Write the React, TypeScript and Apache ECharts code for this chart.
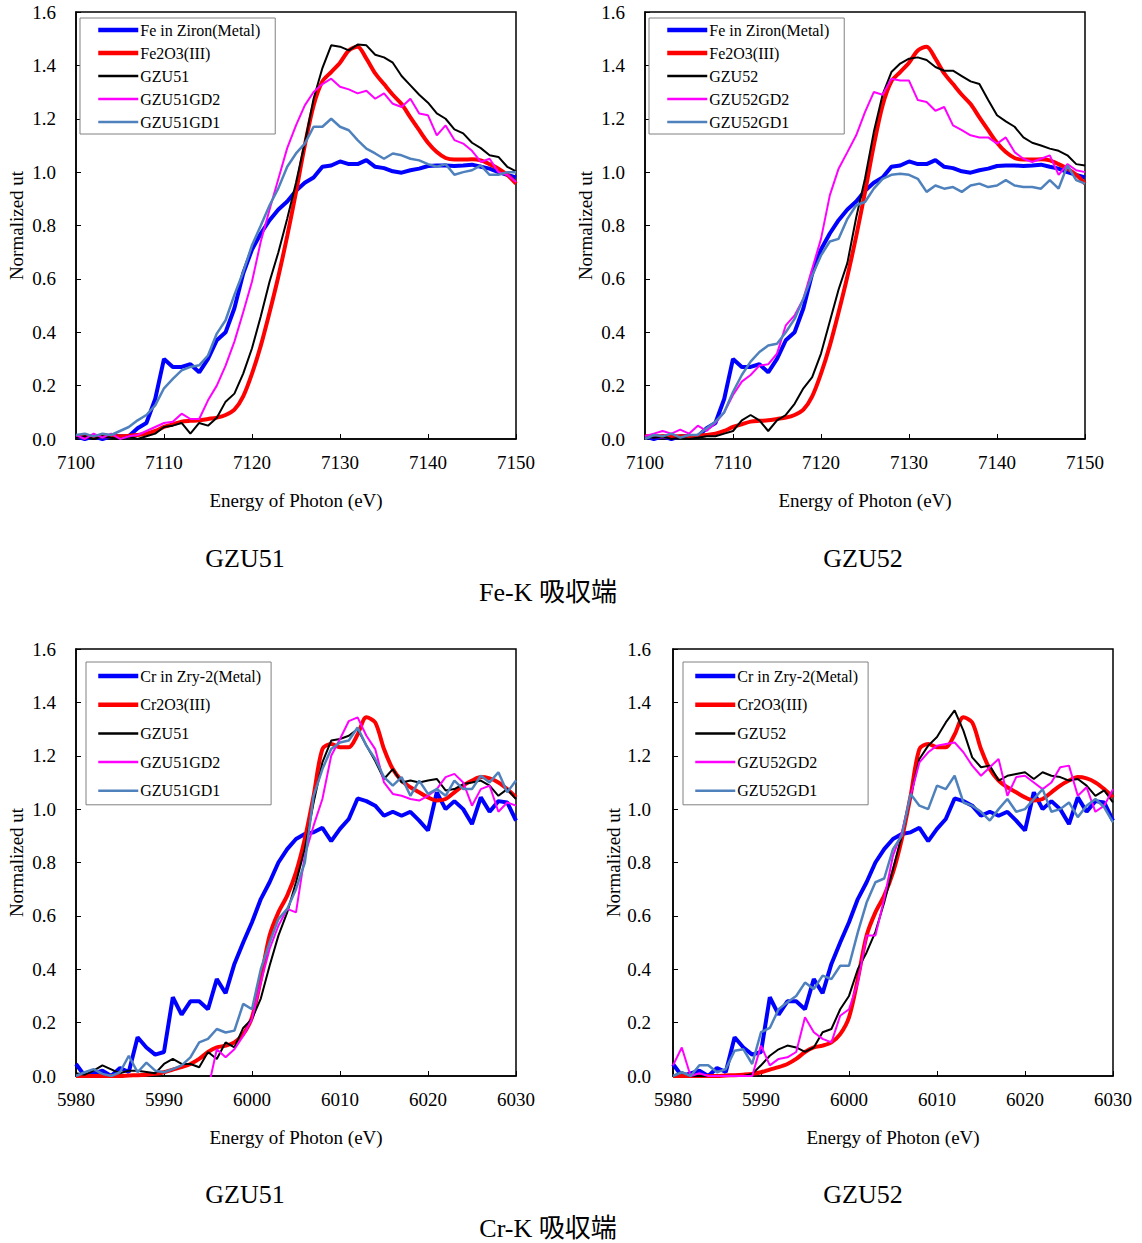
import React, { useEffect, useRef } from "react";
import * as echarts from "echarts";

// ---------- Energy grids ----------
const FE_START = 7100;
const CR_START = 5980;
const N_POINTS = 51;
const FE_ENERGY = Array.from({ length: N_POINTS }, (_, i) => FE_START + i);
const CR_ENERGY = Array.from({ length: N_POINTS }, (_, i) => CR_START + i);

const X_TICKS_FE = [7100, 7150];
const X_TICKS_CR = [5980, 6030];

// ---------- Fe-K edge (7100..7150 eV, 1 eV step) ----------
const FE_METAL = [0.01,0.00,0.01,0.00,0.01,0.01,0.01,0.04,0.06,0.15,0.30,0.27,0.27,0.28,0.25,0.30,0.37,0.40,0.49,0.62,0.71,0.77,0.82,0.86,0.89,0.93,0.96,0.98,1.02,1.025,1.04,1.03,1.03,1.045,1.02,1.015,1.003,0.998,1.007,1.013,1.023,1.025,1.025,1.023,1.025,1.028,1.02,1.013,1.0,0.99,0.98];
const FE2O3 = [0.01,0.01,0.01,0.01,0.01,0.01,0.012,0.015,0.02,0.03,0.045,0.055,0.065,0.068,0.07,0.075,0.08,0.09,0.11,0.16,0.245,0.35,0.475,0.61,0.76,0.925,1.10,1.25,1.34,1.375,1.41,1.456,1.47,1.425,1.37,1.33,1.29,1.255,1.205,1.157,1.11,1.075,1.053,1.047,1.047,1.048,1.044,1.03,1.013,0.99,0.957];
const GZU51_FE = [0.005,0.01,0.0,0.01,0.005,0.0,0.01,0.0,0.01,0.02,0.045,0.05,0.06,0.02,0.06,0.05,0.08,0.14,0.17,0.245,0.34,0.46,0.59,0.70,0.825,0.96,1.11,1.275,1.39,1.475,1.47,1.456,1.478,1.475,1.44,1.43,1.41,1.36,1.325,1.29,1.26,1.22,1.20,1.16,1.145,1.11,1.09,1.063,1.057,1.02,1.003];
const GZU51GD2_FE = [0.015,0.0,0.02,0.005,0.02,0.0,0.01,0.015,0.03,0.045,0.06,0.065,0.095,0.075,0.075,0.145,0.20,0.275,0.365,0.475,0.59,0.74,0.86,0.975,1.09,1.175,1.25,1.30,1.33,1.35,1.32,1.31,1.295,1.305,1.275,1.295,1.256,1.244,1.275,1.22,1.213,1.138,1.175,1.12,1.107,1.08,1.038,1.05,1.0,0.99,0.963];
const GZU51GD1_FE = [0.015,0.02,0.01,0.02,0.015,0.03,0.045,0.07,0.09,0.126,0.19,0.225,0.257,0.27,0.276,0.313,0.395,0.445,0.54,0.626,0.726,0.80,0.876,0.94,1.02,1.07,1.107,1.17,1.17,1.20,1.17,1.157,1.12,1.088,1.07,1.05,1.07,1.063,1.05,1.044,1.03,1.02,1.03,0.99,1.0,1.007,1.025,0.99,0.99,1.0,1.0];
const GZU52_FE = [0.01,0.005,0.01,0.0,0.005,0.0,0.005,0.01,0.01,0.02,0.03,0.07,0.09,0.07,0.03,0.07,0.09,0.132,0.19,0.232,0.32,0.44,0.56,0.66,0.83,0.975,1.15,1.29,1.375,1.407,1.425,1.43,1.42,1.394,1.38,1.38,1.36,1.34,1.33,1.27,1.213,1.19,1.17,1.13,1.11,1.10,1.088,1.08,1.063,1.03,1.025];
const GZU52GD2_FE = [0.01,0.02,0.03,0.02,0.035,0.02,0.05,0.03,0.06,0.10,0.165,0.215,0.24,0.275,0.28,0.32,0.426,0.463,0.526,0.638,0.75,0.913,1.013,1.075,1.138,1.225,1.30,1.29,1.35,1.343,1.343,1.27,1.263,1.23,1.244,1.175,1.157,1.138,1.13,1.13,1.107,1.13,1.075,1.05,1.038,1.05,1.063,0.99,1.03,1.007,1.0];
const GZU52GD1_FE = [0.0,0.015,0.01,0.02,0.005,0.015,0.015,0.04,0.065,0.10,0.176,0.24,0.29,0.326,0.35,0.357,0.40,0.45,0.526,0.613,0.688,0.74,0.75,0.825,0.876,0.888,0.938,0.975,0.99,0.994,0.99,0.975,0.926,0.95,0.938,0.944,0.926,0.95,0.957,0.944,0.95,0.97,0.95,0.944,0.944,0.938,0.97,0.938,1.025,0.97,0.957];

// ---------- Cr-K edge (5980..6030 eV, 1 eV step) ----------
const CR_METAL = [0.045,0.0,0.01,0.02,0.0,0.03,0.015,0.145,0.107,0.08,0.09,0.295,0.23,0.28,0.28,0.25,0.363,0.31,0.42,0.50,0.576,0.663,0.726,0.80,0.85,0.888,0.907,0.913,0.93,0.88,0.926,0.963,1.04,1.03,1.013,0.975,0.99,0.975,0.99,0.957,0.92,1.063,1.0,1.03,1.0,0.944,1.044,0.99,1.03,1.025,0.957];
const CR2O3 = [0,0,0,0,0,0,0.002,0.003,0.005,0.008,0.014,0.024,0.033,0.045,0.064,0.09,0.107,0.114,0.126,0.157,0.22,0.363,0.526,0.613,0.676,0.763,0.888,1.05,1.225,1.244,1.232,1.232,1.28,1.344,1.325,1.225,1.15,1.107,1.082,1.063,1.044,1.032,1.038,1.063,1.088,1.107,1.12,1.115,1.10,1.075,1.044];
const GZU51_CR = [0.01,0.005,0.02,0.04,0.025,0.01,0.02,0.02,0.015,0.01,0.045,0.064,0.045,0.045,0.033,0.09,0.064,0.126,0.107,0.18,0.214,0.29,0.413,0.526,0.613,0.726,0.85,1.025,1.175,1.257,1.263,1.275,1.30,1.238,1.18,1.113,1.15,1.10,1.107,1.10,1.107,1.113,1.07,1.075,1.094,1.10,1.107,1.088,1.05,1.075,1.038];
const GZU51GD2_CR = [null,null,null,null,null,null,null,null,null,null,null,null,null,null,null,-0.05,0.10,0.07,0.10,0.15,0.214,0.35,0.476,0.563,0.626,0.613,0.826,0.938,1.038,1.20,1.263,1.33,1.344,1.275,1.225,1.10,1.057,1.05,1.038,1.032,1.05,1.075,1.12,1.132,1.10,1.013,1.075,1.088,0.99,1.025,1.013];
const GZU51GD1_CR = [0.0,0.014,0.026,0.008,0.0,0.014,0.076,0.014,0.05,0.02,0.014,0.026,0.04,0.07,0.126,0.139,0.176,0.163,0.17,0.27,0.25,0.40,0.50,0.588,0.626,0.70,0.80,1.05,1.15,1.225,1.25,1.257,1.306,1.238,1.188,1.12,1.088,1.12,1.05,1.107,1.057,1.075,1.05,1.107,1.075,1.075,1.125,1.10,1.138,1.063,1.107];
const GZU52_CR = [0.0,0.014,0.0,0.0,0.0,0.0,0.0,0.0,0.0,0.008,0.04,0.076,0.10,0.114,0.107,0.09,0.107,0.164,0.176,0.25,0.30,0.40,0.463,0.54,0.65,0.776,0.90,1.05,1.188,1.238,1.27,1.325,1.37,1.294,1.194,1.157,1.163,1.107,1.125,1.132,1.138,1.113,1.138,1.125,1.12,1.107,1.113,1.088,1.05,1.07,1.025];
const GZU52GD2_CR = [0.04,0.107,0.0,0.01,0.0,0.0,0.0,0.0,0.0,0.0,0.114,0.04,0.064,0.07,0.09,0.22,0.164,0.139,0.126,0.226,0.25,0.35,0.526,0.526,0.663,0.826,0.913,1.05,1.175,1.213,1.238,1.244,1.25,1.213,1.163,1.125,1.157,1.188,1.05,1.12,1.125,1.10,1.075,1.10,1.157,1.163,1.05,1.082,0.99,1.013,1.075];
const GZU52GD1_CR = [0.0,0.014,0.0,0.04,0.04,0.014,0.026,0.095,0.10,0.045,0.164,0.18,0.25,0.276,0.30,0.35,0.326,0.376,0.363,0.413,0.413,0.538,0.65,0.726,0.74,0.85,0.90,1.057,1.013,1.0,1.088,1.075,1.125,1.025,1.013,0.99,0.957,1.0,1.038,0.99,1.0,1.038,1.075,0.99,1.0,1.025,0.97,1.013,1.038,1.007,0.95];

const FE_NAMES_51 = ["Fe in Ziron(Metal)", "Fe2O3(III)", "GZU51", "GZU51GD2", "GZU51GD1"];
const FE_NAMES_52 = ["Fe in Ziron(Metal)", "Fe2O3(III)", "GZU52", "GZU52GD2", "GZU52GD1"];
const CR_NAMES_51 = ["Cr in Zry-2(Metal)", "Cr2O3(III)", "GZU51", "GZU51GD2", "GZU51GD1"];
const CR_NAMES_52 = ["Cr in Zry-2(Metal)", "Cr2O3(III)", "GZU52", "GZU52GD2", "GZU52GD1"];

const Y_MIN = 0;
const Y_MAX = 1.6;
const Y_STEP = 0.2;

const COLORS = ["#0000ff", "#ff0000", "#000000", "#ff00ff", "#4f81bd"];
const WIDTHS = [4, 4, 2, 2, 2.5];
const LEGEND_WIDTHS = [4.5, 4.5, 2.5, 2.5, 2.5];

const SERIF = "'Liberation Serif', 'Times New Roman', serif";
const CJK = "'Liberation Serif', 'Noto Sans CJK JP', serif";

const PANELS = [
  { left: 76, top: 12, energies: FE_ENERGY, range: X_TICKS_FE, names: FE_NAMES_51,
    values: [FE_METAL, FE2O3, GZU51_FE, GZU51GD2_FE, GZU51GD1_FE],
    legend: { left: 80, top: 18, gap: 7, pad: [4, 15, 4, 16] }, yMargin: 20 },
  { left: 645, top: 12, energies: FE_ENERGY, range: X_TICKS_FE, names: FE_NAMES_52,
    values: [FE_METAL, FE2O3, GZU52_FE, GZU52GD2_FE, GZU52GD1_FE],
    legend: { left: 649, top: 18, gap: 7, pad: [4, 15, 4, 16] }, yMargin: 20 },
  { left: 76, top: 649, energies: CR_ENERGY, range: X_TICKS_CR, names: CR_NAMES_51,
    values: [CR_METAL, CR2O3, GZU51_CR, GZU51GD2_CR, GZU51GD1_CR],
    legend: { left: 86, top: 662, gap: 12.7, pad: [6, 10, 6, 10] }, yMargin: 20 },
  { left: 673, top: 649, energies: CR_ENERGY, range: X_TICKS_CR, names: CR_NAMES_52,
    values: [CR_METAL, CR2O3, GZU52_CR, GZU52GD2_CR, GZU52GD1_CR],
    legend: { left: 683, top: 662, gap: 12.7, pad: [6, 10, 6, 10] }, yMargin: 22 },
];

const TITLES = [
  { text: "GZU51", x: 245, y: 558, cjk: false },
  { text: "GZU52", x: 863, y: 558, cjk: false },
  { text: "Fe-K 吸収端", x: 548, y: 592, cjk: true },
  { text: "GZU51", x: 245, y: 1194, cjk: false },
  { text: "GZU52", x: 863, y: 1194, cjk: false },
  { text: "Cr-K 吸収端", x: 548, y: 1228, cjk: true },
];

function buildOption() {
  const grid: any[] = [];
  const xAxis: any[] = [];
  const yAxis: any[] = [];
  const series: any[] = [];
  const legend: any[] = [];

  PANELS.forEach((p, i) => {
    grid.push({
      left: p.left, top: p.top, width: 440, height: 427,
      show: true, borderColor: "#000", borderWidth: 1.5, backgroundColor: "transparent",
    });
    xAxis.push({
      type: "value", gridIndex: i, min: p.range[0], max: p.range[1], interval: 10,
      name: "Energy of Photon (eV)", nameLocation: "middle", nameGap: 52,
      nameTextStyle: { fontFamily: SERIF, fontSize: 19, color: "#000" },
      axisLine: { show: true, onZero: false, lineStyle: { color: "#000", width: 1.5 } },
      axisTick: { show: true, inside: true, length: 5, lineStyle: { color: "#000" } },
      axisLabel: { fontFamily: SERIF, fontSize: 19, color: "#000", margin: 14,
        formatter: (v: number) => String(v) },
      splitLine: { show: false },
    });
    yAxis.push({
      type: "value", gridIndex: i, min: Y_MIN, max: Y_MAX, interval: Y_STEP,
      name: "Normalized ut", nameLocation: "middle", nameGap: 50,
      nameTextStyle: { fontFamily: SERIF, fontSize: 19, color: "#000" },
      axisLine: { show: true, onZero: false, lineStyle: { color: "#000", width: 1.5 } },
      axisTick: { show: true, inside: true, length: 5, lineStyle: { color: "#000" } },
      axisLabel: { fontFamily: SERIF, fontSize: 19, color: "#000", margin: p.yMargin,
        formatter: (v: number) => v.toFixed(1) },
      splitLine: { show: false },
    });
    p.names.forEach((name, k) => {
      const vals = p.values[k];
      series.push({
        type: "line", name, xAxisIndex: i, yAxisIndex: i,
        data: p.energies.map((e, j) => [e, vals[j] === null ? "-" : vals[j]]),
        symbol: "none", showSymbol: false, smooth: k === 1 ? 0.3 : false,
        connectNulls: false, clip: true,
        lineStyle: { color: COLORS[k], width: WIDTHS[k] },
        itemStyle: { color: COLORS[k] },
      });
    });
    legend.push({
      orient: "vertical", left: p.legend.left, top: p.legend.top,
      data: p.names.map((n, k) => ({ name: n, lineStyle: { width: LEGEND_WIDTHS[k], color: COLORS[k] } })),
      itemWidth: 40, itemHeight: 14, itemGap: p.legend.gap,
      padding: p.legend.pad,
      borderColor: "#808080", borderWidth: 1, backgroundColor: "#fff",
      selectedMode: false,
      itemStyle: { opacity: 0 },
      textStyle: { fontFamily: SERIF, fontSize: 16, color: "#000", padding: [0, 0, 0, -3] },
    });
  });

  const graphic = TITLES.map((t) => ({
    type: "text", x: t.x, y: t.y,
    style: {
      text: t.text, fontFamily: t.cjk ? CJK : SERIF, fontSize: 26, fill: "#000",
      align: "center", verticalAlign: "middle", textAlign: "center", textVerticalAlign: "middle",
    },
  }));

  return { animation: false, backgroundColor: "#fff", grid, xAxis, yAxis, series, legend, graphic };
}

export default function App() {
  const ref = useRef<HTMLDivElement>(null);
  useEffect(() => {
    document.body.style.margin = "0";
    if (!ref.current) return;
    const chart = echarts.init(ref.current, undefined, { renderer: "svg" });
    chart.setOption(buildOption() as any);
    return () => chart.dispose();
  }, []);
  return <div ref={ref} style={{ width: 1142, height: 1243 }} />;
}
